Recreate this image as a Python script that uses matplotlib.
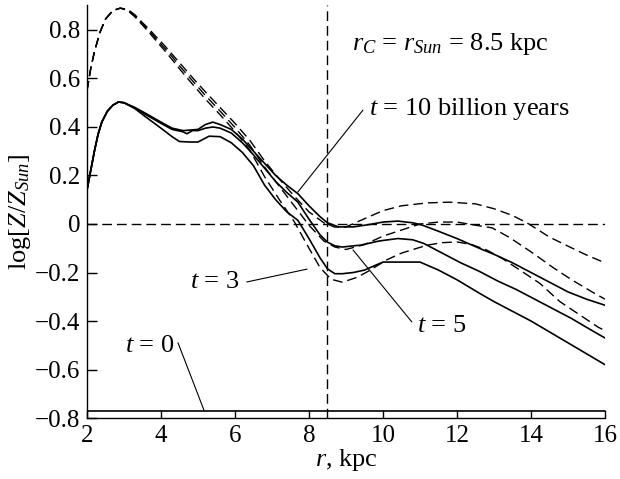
import matplotlib
matplotlib.use("Agg")
import matplotlib.pyplot as plt

plt.rcParams['font.family'] = ['Liberation Serif', 'DejaVu Serif']
plt.rcParams['mathtext.fontset'] = 'custom'
plt.rcParams['mathtext.rm'] = 'Liberation Serif'
plt.rcParams['mathtext.it'] = 'Liberation Serif:italic'
plt.rcParams['mathtext.bf'] = 'Liberation Serif:bold'

# solid curves (t = 3, 5, 10 billion years)
r_t10 = [2.0, 2.1, 2.2, 2.3, 2.4, 2.55, 2.7, 2.85, 3.0, 3.3, 3.6, 4.0, 4.3, 4.6,
         5.0, 5.2, 5.4, 5.6, 5.9, 6.2, 6.5, 6.8, 7.1, 7.4, 7.7, 8.0, 8.3, 8.5,
         8.8, 9.2, 9.6, 10.0, 10.4, 10.8, 11.05, 11.5, 12.0, 12.6, 13.0, 13.5,
         14.0, 14.5, 15.0, 15.5, 16.0]
z_t10 = [0.14, 0.22, 0.30, 0.37, 0.42, 0.465, 0.49, 0.503, 0.50, 0.48, 0.455,
         0.42, 0.395, 0.385, 0.39, 0.41, 0.42, 0.41, 0.39, 0.35, 0.30, 0.25,
         0.20, 0.16, 0.125, 0.075, 0.03, 0.005, -0.012, -0.012, -0.003, 0.008,
         0.012, 0.005, -0.004, -0.03, -0.06, -0.10, -0.125, -0.16, -0.20,
         -0.24, -0.28, -0.31, -0.335]

r_t5 = [2.0, 2.1, 2.2, 2.3, 2.4, 2.55, 2.7, 2.85, 3.0, 3.3, 3.6, 4.0, 4.3, 4.6,
        4.7, 4.85, 5.0, 5.2, 5.4, 5.6, 5.9, 6.2, 6.5, 6.8, 7.1, 7.4, 7.7, 8.0,
        8.3, 8.5, 8.7, 8.9, 9.4, 9.9, 10.4, 10.8, 11.1, 11.6, 12.1, 12.6, 13.1,
        13.6, 14.1, 14.6, 15.1, 15.6, 16.0]
z_t5 = [0.14, 0.22, 0.30, 0.37, 0.42, 0.465, 0.49, 0.503, 0.50, 0.478, 0.45,
        0.415, 0.39, 0.38, 0.372, 0.385, 0.385, 0.395, 0.40, 0.395, 0.375,
        0.335, 0.285, 0.23, 0.175, 0.13, 0.09, 0.02, -0.045, -0.075, -0.09,
        -0.095, -0.087, -0.07, -0.06, -0.065, -0.08, -0.12, -0.16, -0.195,
        -0.235, -0.27, -0.31, -0.35, -0.39, -0.435, -0.47]

r_t3 = [2.0, 2.1, 2.2, 2.3, 2.4, 2.55, 2.7, 2.85, 3.0, 3.3, 3.6, 4.0, 4.3, 4.5,
        4.8, 5.0, 5.15, 5.3, 5.6, 5.9, 6.2, 6.5, 6.8, 7.1, 7.4, 7.7, 8.0, 8.3,
        8.5, 8.7, 8.9, 9.2, 9.5, 9.8, 10.0, 11.0, 11.5, 12.0, 12.6, 13.0, 13.5,
        14.0, 14.5, 15.0, 15.5, 16.0]
z_t3 = [0.14, 0.22, 0.30, 0.37, 0.42, 0.465, 0.49, 0.503, 0.50, 0.475, 0.44,
        0.395, 0.36, 0.34, 0.338, 0.338, 0.35, 0.362, 0.36, 0.335, 0.295, 0.24,
        0.16, 0.10, 0.05, 0.015, -0.06, -0.14, -0.185, -0.205, -0.205, -0.20,
        -0.19, -0.17, -0.157, -0.157, -0.19, -0.23, -0.285, -0.32, -0.36,
        -0.40, -0.445, -0.49, -0.535, -0.58]

# dashed curves
r_d10 = [2.0, 2.1, 2.2, 2.35, 2.5, 2.7, 2.9, 3.1, 3.3, 3.5, 3.7, 3.9, 4.1, 4.3,
         4.5, 4.7, 4.9, 5.2, 5.6, 6.0, 6.4, 6.8, 7.2, 7.6, 8.0, 8.4, 8.7, 9.0,
         9.4, 10.0, 10.5, 11.2, 11.8, 12.5, 13.0, 13.5, 13.9, 14.5, 15.05,
         15.5, 16.0]
z_d10 = [0.55, 0.64, 0.71, 0.79, 0.845, 0.88, 0.89, 0.885, 0.862, 0.83, 0.80,
         0.767, 0.735, 0.70, 0.665, 0.63, 0.595, 0.545, 0.48, 0.415, 0.345,
         0.26, 0.185, 0.115, 0.05, 0.005, -0.013, -0.012, 0.015, 0.055, 0.075,
         0.087, 0.09, 0.083, 0.063, 0.035, 0.004, -0.054, -0.095, -0.128,
         -0.16]

r_d5 = [2.0, 2.1, 2.2, 2.35, 2.5, 2.7, 2.9, 3.1, 3.3, 3.5, 3.7, 3.9, 4.1, 4.3,
        4.5, 4.7, 4.9, 5.2, 5.6, 6.0, 6.4, 6.8, 7.2, 7.6, 8.0, 8.4, 8.7, 9.0,
        9.5, 10.0, 10.5, 11.0, 11.5, 12.0, 12.5, 12.95, 13.4, 13.6, 14.05,
        14.6, 15.1, 15.65, 16.0]
z_d5 = [0.55, 0.64, 0.71, 0.79, 0.845, 0.88, 0.89, 0.883, 0.858, 0.825, 0.793,
        0.758, 0.725, 0.69, 0.652, 0.617, 0.582, 0.53, 0.465, 0.398, 0.325,
        0.235, 0.155, 0.075, -0.005, -0.07, -0.095, -0.105, -0.085, -0.05,
        -0.025, 0.0, 0.008, 0.008, -0.005, -0.016, -0.054, -0.074, -0.12,
        -0.18, -0.23, -0.28, -0.31]

r_d3 = [2.0, 2.1, 2.2, 2.35, 2.5, 2.7, 2.9, 3.1, 3.3, 3.5, 3.7, 3.9, 4.1, 4.3,
        4.5, 4.7, 4.9, 5.2, 5.6, 6.0, 6.4, 6.8, 7.2, 7.6, 8.0, 8.3, 8.6, 8.9,
        9.3, 9.6, 10.1, 10.5, 11.2, 11.6, 12.0, 12.4, 12.8, 13.2, 13.7, 14.24,
        14.78, 15.32, 15.81, 16.0]
z_d3 = [0.55, 0.64, 0.71, 0.79, 0.845, 0.88, 0.89, 0.88, 0.853, 0.82, 0.786,
        0.75, 0.715, 0.678, 0.64, 0.603, 0.568, 0.515, 0.45, 0.382, 0.305,
        0.195, 0.10, 0.01, -0.10, -0.18, -0.228, -0.24, -0.22, -0.195, -0.148,
        -0.12, -0.087, -0.077, -0.074, -0.085, -0.107, -0.14, -0.19, -0.245,
        -0.32, -0.375, -0.425, -0.44]

t0_level = -0.771
r_sun = 8.5

fig = plt.figure(figsize=(6.2, 4.79), dpi=100)
ax = fig.add_axes([0.1403, 0.1273, 0.8355, 0.8623])

dash = (0, (7, 3.6))
for r, z in [(r_d10, z_d10), (r_d5, z_d5), (r_d3, z_d3)]:
    ax.plot(r, z, color='black', lw=1.0, ls=dash)
for r, z in [(r_t10, z_t10), (r_t5, z_t5), (r_t3, z_t3)]:
    ax.plot(r, z, color='black', lw=1.2)
ax.plot([2, 16], [t0_level, t0_level], color='black', lw=1.2)

ax.axhline(0, color='black', lw=1.0, ls=dash)
ax.axvline(r_sun, color='black', lw=1.0, ls=dash)

ax.set_xlim(2, 16)
ax.set_ylim(-0.8, 0.903)
ax.set_xticks([2, 4, 6, 8, 10, 12, 14, 16])
ax.set_yticks([-0.8, -0.6, -0.4, -0.2, 0, 0.2, 0.4, 0.6, 0.8])
ax.set_yticklabels(['\u22120.8', '\u22120.6', '\u22120.4', '\u22120.2', '0',
                    '0.2', '0.4', '0.6', '0.8'])
ax.spines['top'].set_visible(False)
ax.spines['right'].set_visible(False)
ax.spines['left'].set_linewidth(1.0)
ax.spines['bottom'].set_linewidth(1.0)
ax.tick_params(axis='both', direction='in', labelsize=18, width=1.0, pad=5)
ax.tick_params(axis='y', length=7.5)
ax.tick_params(axis='x', length=6)

ax.set_xlabel(r'$r$, kpc', fontsize=19, labelpad=0)
ax.set_ylabel(r'log[$Z$/$Z_{Sun}$]', fontsize=19, labelpad=1)

fs = 19
leader = dict(arrowstyle='-', lw=0.8, shrinkA=0, shrinkB=0)
ax.text(9.16, 0.717, r'$r_C$ = $r_{Sun}$ = 8.5 kpc', fontsize=fs,
        va='baseline')

ax.text(9.62, 0.449, r'$t$ = 10 billion years', fontsize=fs, va='baseline')
ax.annotate('', xy=(7.70, 0.132), xytext=(9.46, 0.47), arrowprops=leader)

ax.text(6.135, -0.264, r'$t$ = 3', fontsize=fs, va='baseline', ha='right')
ax.annotate('', xy=(7.95, -0.186), xytext=(6.32, -0.239), arrowprops=leader)

ax.text(10.92, -0.445, r'$t$ = 5', fontsize=fs, va='baseline')
ax.annotate('', xy=(9.19, -0.107), xytext=(10.78, -0.404), arrowprops=leader)

ax.text(3.03, -0.528, r'$t$ = 0', fontsize=fs, va='baseline')
ax.annotate('', xy=(5.16, -0.767), xytext=(4.46, -0.49), arrowprops=leader)

fig.savefig('out.png', dpi=100)
